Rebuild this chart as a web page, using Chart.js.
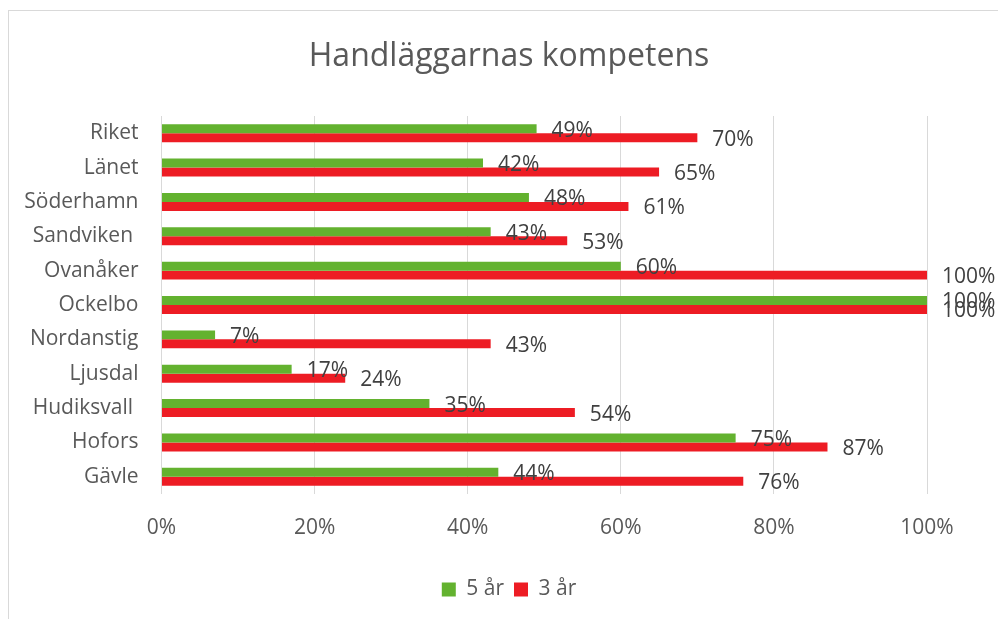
<!DOCTYPE html>
<html>
<head>
<meta charset="utf-8">
<script src="https://cdn.jsdelivr.net/npm/chart.js@4/dist/chart.umd.min.js"></script>
<style>
  html, body { margin: 0; padding: 0; background: #ffffff; }
  #wrap { width: 998px; height: 619px; position: relative; }
</style>
</head>
<body>
<div id="wrap"><canvas id="c" width="998" height="619"></canvas></div>
<script>
const categories = ["Riket", "Länet", "Söderhamn", "Sandviken ", "Ovanåker", "Ockelbo", "Nordanstig", "Ljusdal", "Hudiksvall ", "Hofors", "Gävle"];
const fiveYears = [49, 42, 48, 43, 60, 100, 7, 17, 35, 75, 44];
const threeYears = [70, 65, 61, 53, 100, 100, 43, 24, 54, 87, 76];
const seriesNames = ["5 år", "3 år"];
const chartTitle = "Handläggarnas kompetens";

const FONT = "'Open Sans', 'DejaVu Sans', sans-serif";
const TEXT = "#595959";

const frame = {
  id: 'frame',
  beforeDraw(chart) {
    const ctx = chart.ctx;
    ctx.save();
    ctx.fillStyle = '#ffffff';
    ctx.fillRect(0, 0, chart.width, chart.height);
    ctx.strokeStyle = '#d9d9d9';
    ctx.lineWidth = 1;
    ctx.strokeRect(8.5, 10.5, 2000, 2000);
    ctx.restore();
  }
};

const valueLabels = {
  id: 'valueLabels',
  afterDatasetsDraw(chart) {
    const ctx = chart.ctx;
    ctx.save();
    ctx.font = "21px " + FONT;
    ctx.fillStyle = "#404040";
    ctx.textAlign = 'left';
    ctx.textBaseline = 'middle';
    chart.data.datasets.forEach((ds, di) => {
      const meta = chart.getDatasetMeta(di);
      meta.data.forEach((bar, i) => {
        ctx.fillText(ds.data[i] + '%', bar.x + 15, bar.y + 2);
      });
    });
    ctx.restore();
  }
};

new Chart(document.getElementById('c'), {
  type: 'bar',
  data: {
    labels: categories,
    datasets: [
      { label: seriesNames[0], data: fiveYears, backgroundColor: '#63B22F', borderWidth: 0 },
      { label: seriesNames[1], data: threeYears, backgroundColor: '#ED1C24', borderWidth: 0 }
    ]
  },
  options: {
    indexAxis: 'y',
    responsive: false,
    animation: false,
    devicePixelRatio: 1,
    layout: { padding: { left: 20, right: 0, top: 0, bottom: 9 } },
    datasets: { bar: { categoryPercentage: 0.5225, barPercentage: 1 } },
    scales: {
      x: {
        min: 0, max: 100,
        ticks: {
          stepSize: 20,
          callback: v => v + '%',
          color: TEXT,
          font: { family: FONT, size: 21 },
          padding: 21
        },
        grid: { color: '#d9d9d9', lineWidth: 1, drawTicks: false },
        border: { display: false },
        afterFit(scale) { scale.height = 75; scale.paddingRight = 71; scale.paddingLeft = 0; }
      },
      y: {
        ticks: {
          color: TEXT,
          font: { family: FONT, size: 21 },
          padding: 23
        },
        grid: { display: false, drawTicks: false },
        border: { display: false },
        afterFit(scale) { scale.width = 141.5; }
      }
    },
    plugins: {
      title: {
        display: true,
        text: chartTitle,
        color: TEXT,
        font: { family: FONT, size: 32, weight: 'normal' },
        padding: { top: 37.5, bottom: 40.1 }
      },
      legend: {
        position: 'bottom',
        labels: {
          color: TEXT,
          font: { family: FONT, size: 21 },
          boxWidth: 14,
          boxHeight: 14,
          padding: 10
        }
      },
      tooltip: { enabled: false }
    }
  },
  plugins: [frame, valueLabels]
});
</script>
</body>
</html>
